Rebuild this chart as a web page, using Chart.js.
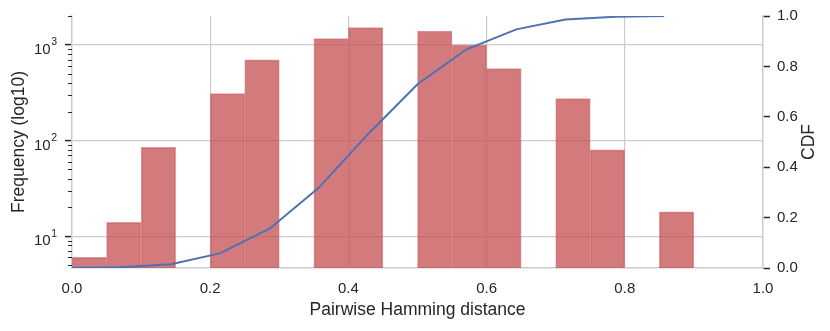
<!DOCTYPE html>
<html>
<head>
<meta charset="utf-8">
<script src="https://cdn.jsdelivr.net/npm/chart.js@4.4.0/dist/chart.umd.min.js"></script>
<style>
  html, body { margin: 0; padding: 0; background: #fff; }
  #wrap { width: 830px; height: 331px; }
</style>
</head>
<body>
<div id="wrap"><canvas id="chart"></canvas></div>
<script>
// histogram bins (left edge, width 0.05) and counts
var binStarts = [0.00, 0.05, 0.10, 0.20, 0.25, 0.35, 0.40, 0.50, 0.55, 0.60, 0.70, 0.75, 0.85];
var binWidth = 0.05;
var counts = [6, 14, 85, 310, 700, 1165, 1520, 1400, 1000, 565, 275, 80, 18];

// CDF curve
var cdfX = [0, 0.071, 0.143, 0.214, 0.286, 0.357, 0.429, 0.5, 0.571, 0.643, 0.714, 0.786, 0.857];
var cdfY = [0.001, 0.003, 0.015, 0.058, 0.156, 0.318, 0.533, 0.729, 0.868, 0.947, 0.986, 0.997, 1.0];

// axis ticks
var xTicks = [0, 0.2, 0.4, 0.6, 0.8, 1.0];
var logTicks = [5, 6, 7, 8, 9, 10, 20, 30, 40, 50, 60, 70, 80, 90,
  100, 200, 300, 400, 500, 600, 700, 800, 900, 1000, 2000];

var ink = '#262626';
var gridGrey = '#cccccc';
var font = 'Liberation Sans, Arial, sans-serif';

function isMajor(v) {
  var l = Math.log10(v);
  return Math.abs(l - Math.round(l)) < 1e-9;
}

var barData = binStarts.map(function (s, i) { return { x: s + binWidth / 2, y: counts[i] }; });
var cdfData = cdfX.map(function (x, i) { return { x: x, y: cdfY[i] }; });

// minor log ticks, 10^n labels with a real superscript, rotated CDF title
var extras = {
  id: 'extras',
  afterDraw: function (chart) {
    var ctx = chart.ctx;
    var y = chart.scales.y;
    ctx.save();
    ctx.strokeStyle = ink;
    ctx.fillStyle = ink;
    ctx.lineWidth = 1;
    logTicks.forEach(function (v) {
      var py = y.getPixelForValue(v);
      if (!isMajor(v)) {
        var ry = Math.round(py) + 0.5;
        ctx.beginPath();
        ctx.moveTo(y.right - 4, ry);
        ctx.lineTo(y.right, ry);
        ctx.stroke();
        return;
      }
      var exp = String(Math.round(Math.log10(v)));
      var xr = y.right - 15;
      ctx.textAlign = 'right';
      ctx.textBaseline = 'alphabetic';
      ctx.font = '10.5px ' + font;
      ctx.fillText(exp, xr, py + 0.5);
      var w = ctx.measureText(exp).width;
      ctx.font = '15px ' + font;
      ctx.fillText('10', xr - w - 0.5, py + 9);
    });
    var r = chart.scales.y2;
    ctx.translate(r.right - 21, (r.top + r.bottom) / 2);
    ctx.rotate(-Math.PI / 2);
    ctx.font = '17.5px ' + font;
    ctx.textAlign = 'center';
    ctx.textBaseline = 'middle';
    ctx.fillText('CDF', 0, 0);
    ctx.restore();
  }
};

new Chart(document.getElementById('chart'), {
  type: 'bar',
  data: {
    datasets: [
      {
        type: 'line',
        data: cdfData,
        yAxisID: 'y2',
        borderColor: '#4C72B0',
        borderWidth: 2,
        pointRadius: 0,
        tension: 0
      },
      {
        type: 'bar',
        data: barData,
        yAxisID: 'y',
        backgroundColor: 'rgba(196,78,82,0.75)',
        borderColor: 'rgba(196,78,82,0.55)',
        borderWidth: 1,
        barPercentage: 1,
        categoryPercentage: 1
      }
    ]
  },
  options: {
    responsive: true,
    maintainAspectRatio: false,
    animation: false,
    layout: { padding: { top: 16, right: 0, left: 0, bottom: 0 } },
    plugins: { legend: { display: false }, tooltip: { enabled: false } },
    scales: {
      x: {
        type: 'linear',
        min: 0,
        max: 1,
        offset: false,
        afterFit: function (s) { s.height = 63; },
        afterBuildTicks: function (s) {
          s.ticks = xTicks.map(function (v) { return { value: v }; });
        },
        ticks: {
          color: ink,
          font: { family: font, size: 15 },
          padding: 12,
          maxRotation: 0,
          callback: function (v) { return Number(v).toFixed(1); }
        },
        grid: {
          offset: false,
          color: function (c) {
            var v = c.tick ? c.tick.value : 0;
            return (v <= 0 || v >= 1) ? 'rgba(0,0,0,0)' : gridGrey;
          },
          lineWidth: 1.2,
          drawTicks: false
        },
        border: { color: gridGrey, width: 1.5 },
        title: {
          display: true,
          text: 'Pairwise Hamming distance',
          color: ink,
          font: { family: font, size: 17.5 },
          padding: { top: 0, bottom: 10 }
        }
      },
      y: {
        type: 'logarithmic',
        position: 'left',
        min: 4.65,
        max: 2010,
        afterFit: function (s) { s.width = 72; },
        afterBuildTicks: function (s) {
          s.ticks = logTicks.map(function (v) { return { value: v, major: isMajor(v) }; });
        },
        ticks: {
          autoSkip: false,
          callback: function () { return ''; }
        },
        grid: {
          color: function (c) {
            return c.tick && isMajor(c.tick.value) ? gridGrey : 'rgba(0,0,0,0)';
          },
          tickColor: function (c) {
            return c.tick && isMajor(c.tick.value) ? ink : 'rgba(0,0,0,0)';
          },
          lineWidth: 1.2,
          tickLength: 7,
          tickWidth: 1.5
        },
        border: { color: gridGrey, width: 1.5 },
        title: {
          display: true,
          text: 'Frequency (log10)',
          color: ink,
          font: { family: font, size: 17.5 },
          padding: { top: 8.5, bottom: 0 }
        }
      },
      y2: {
        type: 'linear',
        position: 'right',
        min: 0,
        max: 1,
        afterFit: function (s) { s.width = 67; },
        ticks: {
          stepSize: 0.2,
          color: ink,
          font: { family: font, size: 15 },
          padding: 7,
          callback: function (v) { return Number(v).toFixed(1); }
        },
        grid: {
          drawOnChartArea: false,
          tickColor: ink,
          tickLength: 7,
          tickWidth: 1.5
        },
        border: { color: gridGrey, width: 1.5 }
      }
    }
  },
  plugins: [extras]
});
</script>
</body>
</html>
